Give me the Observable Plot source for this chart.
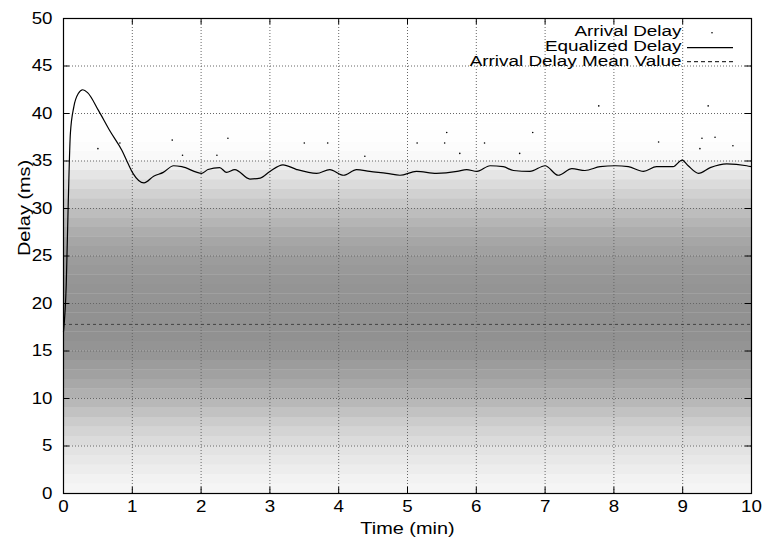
<!DOCTYPE html>
<html><head><meta charset="utf-8">
<script src="https://cdn.jsdelivr.net/npm/d3@7"></script>
<script src="https://cdn.jsdelivr.net/npm/@observablehq/plot@0.6"></script>
<style>
body{margin:0;background:#fff}
svg{font-family:"Liberation Sans",Arial,Helvetica,sans-serif}
</style>
</head><body><div id="chart"></div>
<script>
// ---- data ----
const xTicks = [0,1,2,3,4,5,6,7,8,9,10];
const yTicks = [0,5,10,15,20,25,30,35,40,45,50];

// Arrival delay scatter, summarised as ink density per 1 ms band (estimated)
const bandLow     = [0,1,2,3,4,5,6,7,8,9,10,11,12,13,14,15,16,17,18,19,20,21,22,23,24,25,26,27,28,29,30,31,32,33,34,35,36,37,38,39];
const bandDensity = [0.04,0.05,0.07,0.09,0.11,0.14,0.17,0.20,0.24,0.28,0.31,0.34,0.37,0.39,0.41,0.42,0.43,0.43,0.43,0.43,0.42,0.42,0.41,0.40,0.39,0.37,0.35,0.32,0.29,0.26,0.22,0.18,0.14,0.10,0.06,0.025,0.01,0.004,0.004,0.003];

// Sparse arrival delay outliers above the dense band
const outTime  = [1.58,2.39,0.50,0.82,1.73,2.23,3.50,3.84,5.57,5.14,5.54,6.12,5.76,4.38,6.82,8.65,9.28,9.47,9.73,9.25,6.63,9.37,7.78];
const outDelay = [37.2,37.4,36.3,36.9,35.6,35.6,36.9,36.9,38.0,36.9,36.9,36.9,35.8,35.5,38.0,37.0,37.4,37.5,36.6,36.3,35.8,40.8,40.8];

// Equalized delay curve
const eqTime  = [0,0.04,0.07,0.10,0.15,0.215,0.28,0.35,0.51,0.68,0.85,0.94,1.01,1.17,1.31,1.45,1.60,1.72,2.01,2.10,2.27,2.37,2.49,2.71,2.86,3.00,3.19,3.39,3.68,3.87,4.07,4.26,4.45,4.70,4.89,5.13,5.42,5.72,5.86,6.01,6.20,6.39,6.54,6.78,7.00,7.19,7.39,7.58,7.80,8.02,8.21,8.43,8.62,8.86,8.99,9.08,9.23,9.40,9.64,9.93,10.0];
const eqDelay = [17,22,30.9,37.9,40.7,42.1,42.5,42.2,40.3,38.1,36.1,34.7,33.7,32.7,33.4,33.8,34.5,34.4,33.7,34.1,34.3,33.8,34.1,33.1,33.2,33.9,34.6,34.1,33.7,34.1,33.5,34.1,33.9,33.7,33.5,33.9,33.7,33.9,34.1,33.9,34.5,34.4,34.0,33.9,34.5,33.5,34.2,34.0,34.4,34.5,34.4,33.9,34.4,34.4,35.1,34.5,33.7,34.3,34.7,34.5,34.4];

const meanDelay = 17.8;
const legendLabels = ["Arrival Delay","Equalized Delay","Arrival Delay Mean Value"];
const xLabel = "Time (min)";
const yLabel = "Delay (ms)";

// ---- tables ----
const bands = bandLow.map((lo,i)=>({x1:xTicks[0], x2:xTicks[xTicks.length-1], y1:lo, y2:lo+1, d:bandDensity[i]}));
const outliers = outTime.map((t,i)=>({t, d:outDelay[i]}));
const eq = eqTime.map((t,i)=>({t, d:eqDelay[i]}));

const gridStyle = {stroke:"#666", strokeOpacity:1, strokeWidth:1, strokeDasharray:"1,2"};
const legendDy = [13.5, 28, 43];      // text rows
const sampleDy = [14.3, 29.6, 43.7];  // legend samples

const plot = Plot.plot({
  width: 765, height: 539,
  marginLeft: 63, marginRight: 14, marginTop: 18, marginBottom: 46,
  x: {domain:[0,10], label:null},
  y: {domain:[0,50], label:null},
  opacity: {type:"identity"},
  style: {fontSize:"16px", fontFamily:'"Liberation Sans",Arial,sans-serif', color:"black", background:"white"},
  marks: [
    Plot.rect(bands, {x1:"x1", x2:"x2", y1:"y1", y2:"y2", fill:"black", fillOpacity:"d"}),
    Plot.gridX(xTicks, gridStyle),
    Plot.gridY(yTicks, gridStyle),
    Plot.dot(outliers, {x:"t", y:"d", r:0.8, fill:"black", stroke:null}),
    Plot.ruleY([meanDelay], {stroke:"#222", strokeWidth:0.7, strokeDasharray:"3,3"}),
    Plot.line(eq, {x:"t", y:"d", curve:"monotone-x", stroke:"black", strokeWidth:1.2}),
    Plot.ruleY(yTicks, {x1:0, x2:0.09, stroke:"black"}),
    Plot.ruleY(yTicks, {x1:9.91, x2:10, stroke:"black"}),
    Plot.ruleX(xTicks, {y1:0, y2:0.65, stroke:"black"}),
    Plot.ruleX(xTicks, {y1:49.35, y2:50, stroke:"black"}),
    Plot.axisX(xTicks, {tickSize:0, tickPadding:7, fontSize:16}),
    Plot.axisY(yTicks, {tickSize:0, tickPadding:11, fontSize:16}),
    Plot.frame({stroke:"black", strokeWidth:1.2}),
    Plot.text([xLabel], {frameAnchor:"bottom", lineAnchor:"middle", dy:35, fontSize:17, text:d=>d}),
    Plot.text([yLabel], {frameAnchor:"left", lineAnchor:"middle", dx:-39, rotate:-90, fontSize:17, text:d=>d}),
    ...legendLabels.map((lab,i)=>Plot.text([lab], {frameAnchor:"top-right", lineAnchor:"middle", textAnchor:"end", dx:-70, dy:legendDy[i], fontSize:14, text:d=>d})),
    Plot.dot([0], {frameAnchor:"top-right", dx:-39.5, dy:sampleDy[0], r:0.8, fill:"black", stroke:null})
  ]
});
document.getElementById("chart").append(plot);

const svg = d3.select(plot);

// horizontal stretch of text to match the reference's wide lettering
svg.selectAll("text").each(function(){
  const len = this.getComputedTextLength();
  const fs = this.getAttribute("font-size") || (this.parentNode && this.parentNode.getAttribute("font-size"));
  const f = fs === "14" ? 1.35 : 1.17;
  if (len > 0) { this.setAttribute("textLength", len*f); this.setAttribute("lengthAdjust","spacingAndGlyphs"); }
});

// legend line samples
const rx = 751 - 18, lx = 751 - 64;
svg.append("line").attr("x1",lx).attr("x2",rx).attr("y1",18+sampleDy[1]).attr("y2",18+sampleDy[1]).attr("stroke","black").attr("stroke-width",1.2);
svg.append("line").attr("x1",lx).attr("x2",rx).attr("y1",18+sampleDy[2]).attr("y2",18+sampleDy[2]).attr("stroke","black").attr("stroke-width",1).attr("stroke-dasharray","4,3");
</script>
</body></html>
